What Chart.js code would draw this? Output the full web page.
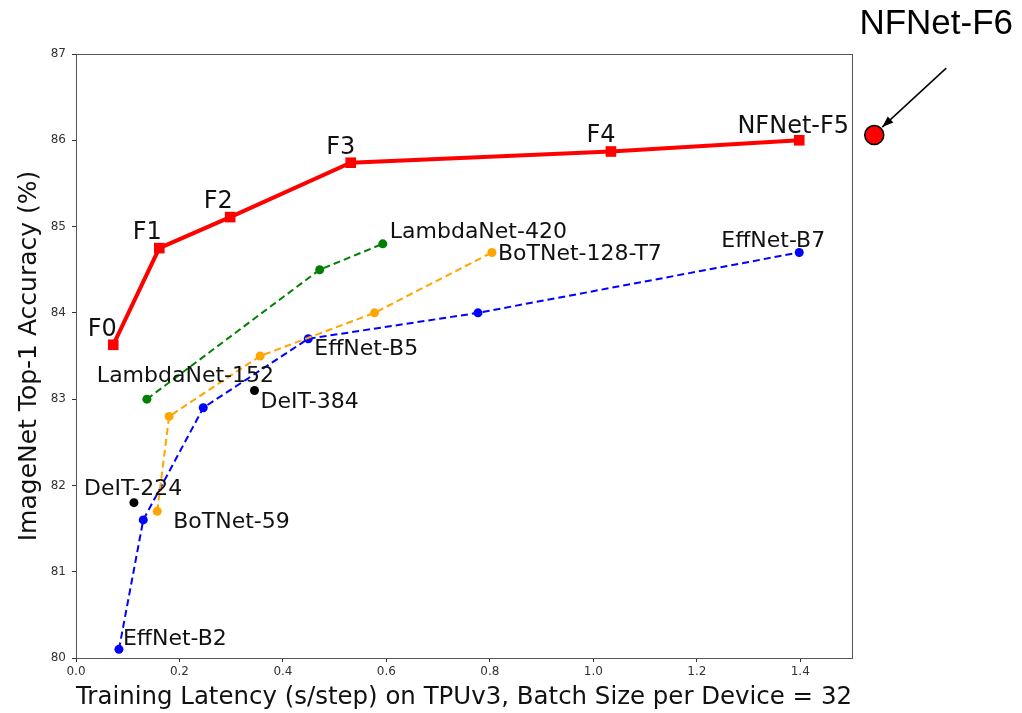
<!DOCTYPE html>
<html lang="en">
<head>
    <meta charset="UTF-8">
    <title>NFNet latency vs accuracy</title>
    <script src="https://cdn.jsdelivr.net/npm/chart.js"></script>
    <style>
        body { margin: 0; background: #fff; }
        .wrap { position: relative; width: 1022px; height: 713px; }
    </style>
</head>
<body>
    <div class="wrap"><canvas id="chart"></canvas></div>

    <script>
        // data
        const nfX = [0.072, 0.161, 0.298, 0.531, 1.034, 1.398];
        const nfY = [83.63, 84.75, 85.11, 85.74, 85.87, 86.0];
        const nfNames = ['F0', 'F1', 'F2', 'F3', 'F4', 'NFNet-F5'];

        const lambdaX = [0.137, 0.471, 0.593];
        const lambdaY = [83.0, 84.5, 84.8];

        const botX = [0.157, 0.180, 0.356, 0.577, 0.804];
        const botY = [81.7, 82.8, 83.5, 84.0, 84.7];

        const effX = [0.083, 0.130, 0.246, 0.449, 0.777, 1.398];
        const effY = [80.1, 81.6, 82.9, 83.7, 84.0, 84.7];

        const deitX = [0.112, 0.345];
        const deitY = [81.8, 83.1];

        const f6X = [1.543];
        const f6Y = [86.06];

        const xTicks = [0, 0.2, 0.4, 0.6, 0.8, 1.0, 1.2, 1.4];
        const yTicks = [80, 81, 82, 83, 84, 85, 86, 87];

        // point labels: [text, dataset index, point index, dx, dy, align]
        const pointLabels = [
            ['F0', 0, 0, -11, -15, 'center'],
            ['F1', 0, 1, -12, -15, 'center'],
            ['F2', 0, 2, -12, -15, 'center'],
            ['F3', 0, 3, -10, -15, 'center'],
            ['F4', 0, 4, -10, -16, 'center'],
            ['NFNet-F5', 0, 5, -6, -14, 'center'],
            ['LambdaNet-152', 1, 0, -50, -23, 'left'],
            ['LambdaNet-420', 1, 2, 7, -12, 'left'],
            ['BoTNet-59', 2, 0, 16, 11, 'left'],
            ['BoTNet-128-T7', 2, 4, 6, 2, 'left'],
            ['EffNet-B2', 3, 0, 4, -10, 'left'],
            ['EffNet-B5', 3, 3, 6, 11, 'left'],
            ['EffNet-B7', 3, 5, -78, -11, 'left'],
            ['DeIT-224', 4, 0, -50, -13, 'left'],
            ['DeIT-384', 4, 1, 6, 12, 'left']
        ];

        function pts(xs, ys) {
            return xs.map((x, i) => ({ x: x, y: ys[i] }));
        }

        const decorations = {
            id: 'decorations',
            afterDatasetsDraw(chart) {
                const ctx = chart.ctx;
                const a = chart.chartArea;
                ctx.save();

                // frame
                ctx.strokeStyle = '#555';
                ctx.lineWidth = 1;
                ctx.strokeRect(a.left + 0.5, a.top + 0.5, a.right - a.left, a.bottom - a.top);

                // point labels
                ctx.fillStyle = '#111';
                ctx.textBaseline = 'middle';
                pointLabels.forEach(l => {
                    const el = chart.getDatasetMeta(l[1]).data[l[2]];
                    ctx.font = (l[1] === 0 ? '24px' : '22px') + ' "DejaVu Sans"';
                    ctx.textAlign = l[5];
                    ctx.fillText(l[0], el.x + l[3], el.y + l[4]);
                });

                // NFNet-F6 point sits outside the axes, so draw it here
                const p = chart.getDatasetMeta(5).data[0];
                ctx.beginPath();
                ctx.arc(p.x, p.y, 9.5, 0, Math.PI * 2);
                ctx.fillStyle = '#ff0000';
                ctx.fill();
                ctx.lineWidth = 1.5;
                ctx.strokeStyle = '#000';
                ctx.stroke();

                ctx.font = '35px "Liberation Sans"';
                ctx.textAlign = 'center';
                ctx.fillStyle = '#000';
                ctx.fillText('NFNet-F6', p.x + 62, p.y - 111);

                const sx = p.x + 72, sy = p.y - 67;
                const ex = p.x + 8, ey = p.y - 8;
                ctx.beginPath();
                ctx.moveTo(sx, sy);
                ctx.lineTo(ex, ey);
                ctx.stroke();
                const ang = Math.atan2(ey - sy, ex - sx);
                ctx.beginPath();
                ctx.moveTo(ex, ey);
                ctx.lineTo(ex - 12 * Math.cos(ang - 0.35), ey - 12 * Math.sin(ang - 0.35));
                ctx.lineTo(ex - 12 * Math.cos(ang + 0.35), ey - 12 * Math.sin(ang + 0.35));
                ctx.closePath();
                ctx.fill();
                ctx.restore();
            }
        };

        const dashed = [7, 4];

        new Chart(document.getElementById('chart'), {
            type: 'scatter',
            data: {
                datasets: [
                    {
                        data: pts(nfX, nfY), showLine: true, borderColor: '#ff0000',
                        backgroundColor: '#ff0000', borderWidth: 4, pointStyle: 'rect',
                        pointRadius: 7.5, pointBorderWidth: 0
                    },
                    {
                        data: pts(lambdaX, lambdaY), showLine: true, borderColor: '#008000',
                        backgroundColor: '#008000', borderWidth: 2, borderDash: dashed,
                        pointRadius: 4.5, pointBorderWidth: 0
                    },
                    {
                        data: pts(botX, botY), showLine: true, borderColor: '#ffa500',
                        backgroundColor: '#ffa500', borderWidth: 2, borderDash: dashed,
                        pointRadius: 4.5, pointBorderWidth: 0
                    },
                    {
                        data: pts(effX, effY), showLine: true, borderColor: '#0000ff',
                        backgroundColor: '#0000ff', borderWidth: 2, borderDash: dashed,
                        pointRadius: 4.5, pointBorderWidth: 0
                    },
                    {
                        data: pts(deitX, deitY), showLine: false,
                        backgroundColor: '#000', pointRadius: 4.5, pointBorderWidth: 0
                    },
                    {
                        data: pts(f6X, f6Y), showLine: false,
                        backgroundColor: '#ff0000', pointRadius: 0
                    }
                ]
            },
            options: {
                responsive: true,
                maintainAspectRatio: false,
                animation: false,
                events: [],
                layout: { padding: { top: 54, right: 170, left: 0, bottom: 0 } },
                plugins: { legend: { display: false }, tooltip: { enabled: false } },
                scales: {
                    x: {
                        type: 'linear', min: 0, max: 1.5,
                        afterBuildTicks: s => { s.ticks = xTicks.map(v => ({ value: v })); },
                        afterFit: s => { s.height = 55; },
                        border: { display: false },
                        grid: { drawOnChartArea: false, drawTicks: true, tickLength: 4, color: '#333' },
                        ticks: {
                            padding: 3, color: '#333',
                            font: { family: 'DejaVu Sans', size: 12 },
                            callback: v => v.toFixed(1)
                        },
                        title: {
                            display: true, color: '#111',
                            text: 'Training Latency (s/step) on TPUv3, Batch Size per Device = 32',
                            font: { family: 'DejaVu Sans', size: 25 },
                            padding: { top: 0, bottom: 1 }
                        }
                    },
                    y: {
                        type: 'linear', min: 80, max: 87,
                        afterBuildTicks: s => { s.ticks = yTicks.map(v => ({ value: v })); },
                        afterFit: s => { s.width = 76; },
                        border: { display: false },
                        grid: { drawOnChartArea: false, drawTicks: true, tickLength: 4, color: '#333' },
                        ticks: {
                            padding: 6, color: '#333',
                            font: { family: 'DejaVu Sans', size: 12 }
                        },
                        title: {
                            display: true, color: '#111',
                            text: 'ImageNet Top-1 Accuracy (%)',
                            font: { family: 'DejaVu Sans', size: 25 },
                            padding: { top: 14, bottom: 0 }
                        }
                    }
                }
            },
            plugins: [decorations]
        });
    </script>
</body>
</html>
